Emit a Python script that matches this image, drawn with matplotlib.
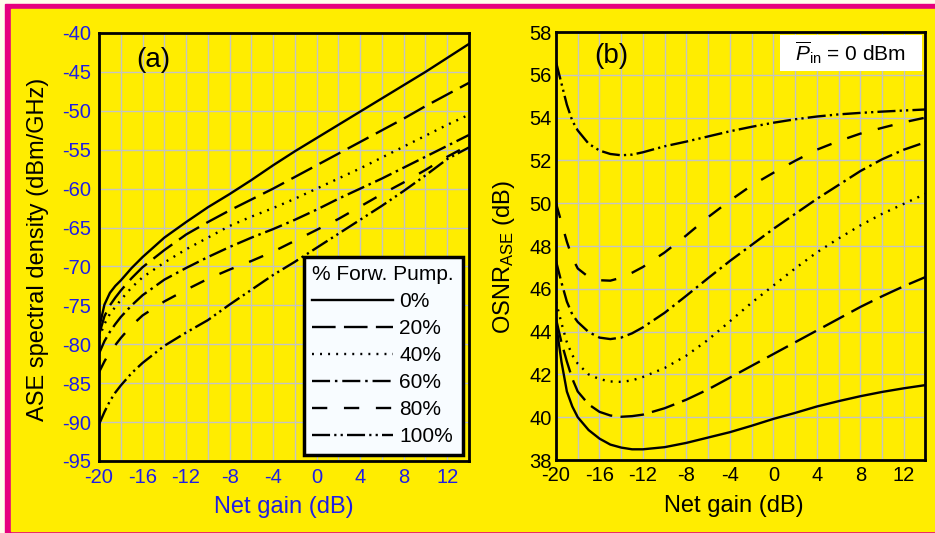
import matplotlib
matplotlib.use("Agg")
import matplotlib.pyplot as plt
from matplotlib.ticker import MultipleLocator
from matplotlib.patches import Rectangle

# ---------------- data ----------------
pump_labels = ["0%", "20%", "40%", "60%", "80%", "100%"]

gain_a = [-20, -19.5, -19, -18.5, -18, -17, -16, -14, -12, -10, -8, -6, -4,
          -2, 0, 2, 4, 6, 8, 10, 12, 14]
ase_0 = [-78.0, -74.9, -73.4, -72.5, -71.8, -70.2, -68.8, -66.3, -64.3, -62.4,
         -60.7, -58.9, -57.0, -55.2, -53.5, -51.8, -50.1, -48.4, -46.7, -45.0,
         -43.2, -41.4]
ase_20 = [-78.8, -76.4, -75.0, -74.0, -73.1, -71.5, -70.1, -67.9, -65.9, -64.3,
          -62.8, -61.4, -60.0, -58.5, -57.0, -55.5, -54.0, -52.5, -51.0, -49.4,
          -47.9, -46.4]
ase_40 = [-79.2, -77.4, -76.1, -75.2, -74.3, -72.7, -71.4, -69.5, -67.8, -66.3,
          -64.8, -63.6, -62.5, -61.3, -60.0, -58.7, -57.4, -56.0, -54.6, -53.2,
          -51.8, -50.5]
ase_60 = [-81.2, -79.6, -78.4, -77.4, -76.5, -75.0, -73.7, -71.7, -70.2, -68.8,
          -67.5, -66.3, -65.2, -64.0, -62.7, -61.3, -60.0, -58.7, -57.3, -55.9,
          -54.5, -53.1]
ase_80 = [-83.6, -82.2, -81.0, -80.1, -79.2, -77.6, -76.3, -74.5, -73.0, -71.6,
          -70.4, -69.3, -68.1, -66.7, -65.3, -63.9, -62.3, -60.7, -59.2, -57.6,
          -55.9, -54.4]
ase_100 = [-90.3, -88.7, -87.3, -86.2, -85.3, -83.7, -82.4, -80.2, -78.5, -76.9,
           -74.9, -73.0, -71.1, -69.4, -67.6, -65.8, -64.0, -62.2, -60.3, -58.3,
           -56.2, -54.7]

gain_b = [-20, -19.5, -19, -18.5, -18, -17, -16, -15, -14, -13, -12, -10, -8,
          -6, -4, -2, 0, 2, 4, 6, 8, 10, 12, 14]
osnr_0 = [44.4, 42.6, 41.2, 40.5, 40.0, 39.4, 39.0, 38.72, 38.58, 38.5, 38.5,
          38.6, 38.8, 39.05, 39.3, 39.6, 39.92, 40.2, 40.5, 40.75, 40.98, 41.18,
          41.35, 41.5]
osnr_20 = [44.6, 43.5, 42.6, 41.8, 41.2, 40.6, 40.25, 40.08, 40.02, 40.05, 40.12,
           40.42, 40.82, 41.3, 41.85, 42.4, 42.95, 43.5, 44.05, 44.6, 45.15,
           45.65, 46.12, 46.55]
osnr_40 = [45.4, 44.4, 43.5, 42.9, 42.5, 42.0, 41.78, 41.67, 41.65, 41.72, 41.88,
           42.3, 42.88, 43.62, 44.48, 45.35, 46.15, 46.95, 47.7, 48.35, 48.96,
           49.5, 49.97, 50.44]
osnr_60 = [47.3, 46.3, 45.4, 44.8, 44.45, 43.98, 43.72, 43.65, 43.72, 43.92, 44.2,
           44.88, 45.68, 46.5, 47.3, 48.05, 48.8, 49.5, 50.2, 50.85, 51.5, 52.05,
           52.5, 52.85]
osnr_80 = [50.0, 49.1, 48.2, 47.45, 46.95, 46.55, 46.4, 46.38, 46.52, 46.75, 47.02,
           47.7, 48.5, 49.35, 50.12, 50.83, 51.42, 51.98, 52.5, 52.9, 53.25, 53.52,
           53.78, 54.0]
osnr_100 = [56.6, 55.6, 54.6, 53.85, 53.4, 52.78, 52.46, 52.3, 52.24, 52.27, 52.38,
            52.66, 52.88, 53.12, 53.36, 53.57, 53.76, 53.92, 54.05, 54.15, 54.22,
            54.28, 54.33, 54.38]

ase_series = [ase_0, ase_20, ase_40, ase_60, ase_80, ase_100]
osnr_series = [osnr_0, osnr_20, osnr_40, osnr_60, osnr_80, osnr_100]

# ---------------- style ----------------
plt.rcParams.update({
    "font.family": ["Liberation Sans", "DejaVu Sans"],
    "mathtext.fontset": "custom",
    "mathtext.rm": "Liberation Sans",
    "mathtext.it": "Liberation Sans:italic",
    "mathtext.bf": "Liberation Sans:bold",
    "lines.scale_dashes": False,
    "axes.unicode_minus": False,
})

YELLOW = "#FFED00"
MAGENTA = "#E6007E"
BLUE = "#1E1EE6"
GRID = "#C4C4C4"

dash_styles = [
    "-",
    (0, (17, 6)),
    (0, (1.4, 4.4)),
    (0, (13, 3.5, 1.8, 3.5)),
    (0, (11, 12)),
    (0, (13, 3, 1.6, 3, 1.6, 3)),
]

fig = plt.figure(figsize=(9.35, 5.33), dpi=100)
fig.patch.set_facecolor("#FFFDEB")
fig.add_artist(Rectangle((5 / 935, 0), 930 / 935, 529 / 533,
                         transform=fig.transFigure, color=MAGENTA, zorder=-3))
fig.add_artist(Rectangle((11 / 935, 2 / 533), 924 / 935, 522 / 533,
                         transform=fig.transFigure, color=YELLOW, zorder=-2))

ax_a = fig.add_axes([99 / 935, 72 / 533, 370 / 935, 428 / 533])
ax_b = fig.add_axes([556 / 935, 73 / 533, 369.5 / 935, 428 / 533])


def style_axes(ax, ystep_grid, tick_color):
    ax.set_facecolor(YELLOW)
    ax.xaxis.set_major_locator(MultipleLocator(4))
    ax.xaxis.set_minor_locator(MultipleLocator(2))
    ax.yaxis.set_major_locator(MultipleLocator(ystep_grid))
    ax.grid(True, which="both", color=GRID, lw=1.0, zorder=0)
    ax.set_axisbelow(True)
    ax.tick_params(which="both", length=0, labelsize=14.5, colors=tick_color)
    for sp in ax.spines.values():
        sp.set_linewidth(2.0)
        sp.set_color("black")
        sp.set_zorder(5)


# ---------------- panel (a) ----------------
for vals, ls, lab in zip(ase_series, dash_styles, pump_labels):
    ax_a.plot(gain_a, vals, color="black", lw=1.7, linestyle=ls, label=lab,
              zorder=3)
ax_a.set_xlim(-20, 14)
ax_a.set_ylim(-95, -40)
style_axes(ax_a, 5, BLUE)
ax_a.tick_params(axis="y", pad=6)
ax_a.tick_params(axis="x", pad=5)
ax_a.set_xlabel("Net gain (dB)", fontsize=17, color=BLUE, va="center")
ax_a.xaxis.set_label_coords(0.5, -0.107)
ax_a.set_ylabel("ASE spectral density (dBm/GHz)", fontsize=17, color="black",
                va="center")
ax_a.yaxis.set_label_coords(-0.165, 0.495)
ax_a.text(0.148, 0.967, "(a)", transform=ax_a.transAxes, fontsize=20,
          ha="center", va="top")

leg = ax_a.legend(title="% Forw. Pump.", loc="lower right",
                  bbox_to_anchor=(1.0, 0.0), fontsize=15, title_fontsize=15,
                  handlelength=3.85, handletextpad=0.33, labelspacing=0.38,
                  borderaxespad=0.3, borderpad=0.42, fancybox=False,
                  framealpha=1.0, facecolor="#F8FCFF", edgecolor="black",
                  alignment="left")
leg.get_frame().set_linewidth(2.5)
leg.set_zorder(6)

# ---------------- panel (b) ----------------
for vals, ls in zip(osnr_series, dash_styles):
    ax_b.plot(gain_b, vals, color="black", lw=1.7, linestyle=ls, zorder=3)
ax_b.set_xlim(-20, 14)
ax_b.set_ylim(38, 58)
style_axes(ax_b, 2, "black")
ax_b.tick_params(axis="y", pad=3)
ax_b.tick_params(axis="x", pad=4)
ax_b.set_xlabel("Net gain (dB)", fontsize=17, color="black", va="center")
ax_b.xaxis.set_label_coords(0.48, -0.107)
ax_b.set_ylabel(r"OSNR$_{\mathrm{ASE}}$ (dB)", fontsize=17, color="black",
                va="center")
ax_b.yaxis.set_label_coords(-0.14, 0.475)
ax_b.text(0.15, 0.975, "(b)", transform=ax_b.transAxes, fontsize=20,
          ha="center", va="top")

ax_b.add_patch(Rectangle((0.606, 0.908), 0.384, 0.084, transform=ax_b.transAxes,
                         facecolor="white", edgecolor="none", zorder=4))
ax_b.text(0.798, 0.951, r"$\overline{P}_{\mathrm{in}}$ = 0 dBm",
          transform=ax_b.transAxes, fontsize=15, ha="center", va="center",
          zorder=5)

fig.savefig("out.png", dpi=100, facecolor=fig.get_facecolor())
